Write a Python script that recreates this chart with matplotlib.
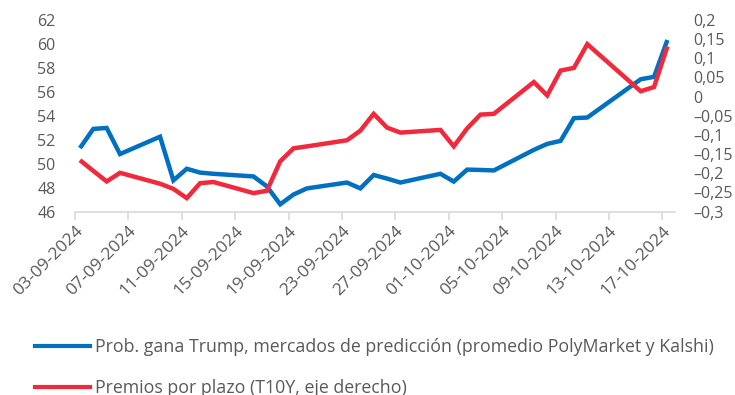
import numpy as np
import pandas as pd
import matplotlib
matplotlib.use("Agg")
import matplotlib.pyplot as plt
from matplotlib.lines import Line2D
from matplotlib.transforms import ScaledTranslation

plt.rcParams['font.family'] = ['Open Sans', 'DejaVu Sans']

# trading days (offset in days from 03-09-2024)
days = [0, 1, 2, 3, 6, 7, 8, 9, 10, 13, 14, 15, 16, 17, 20, 21, 22, 23, 24,
        27, 28, 29, 30, 31, 34, 35, 36, 37, 38, 42, 43, 44]

# probabilidad de victoria de Trump (%)
prob_trump = [51.3, 52.9, 52.98, 50.8, 52.25, 48.6, 49.57, 49.25, 49.15, 48.93,
              48.1, 46.6, 47.42, 47.93, 48.42, 47.93, 49.05, 48.75, 48.42,
              49.15, 48.5, 49.5, 49.47, 49.43, 51.15, 51.65, 51.9, 53.8, 53.85,
              57.05, 57.25, 60.33]

# term premium T10Y
term_premium = [-0.166, -0.194, -0.2215, -0.199, -0.2275, -0.241, -0.265, -0.226,
                -0.223, -0.252, -0.246, -0.169, -0.135, -0.130, -0.114, -0.089,
                -0.045, -0.081, -0.094, -0.087, -0.130, -0.083, -0.047, -0.045,
                0.038, 0.003, 0.068, 0.075, 0.137, 0.014, 0.025, 0.131]

start = pd.Timestamp('2024-09-03')
tick_days = np.arange(0, 45, 4)
tick_labels = [(start + pd.Timedelta(days=int(d))).strftime('%d-%m-%Y') for d in tick_days]

left_ticks = np.arange(46, 63, 2)
right_ticks = np.arange(-0.3, 0.201, 0.05)

BLUE = '#0070C0'
RED = '#F2283C'
GREY = '#595959'

fig = plt.figure(figsize=(7.35, 3.95), dpi=100)
ax = fig.add_axes([75/735, 1 - 211.5/395, 600/735, 191.5/395])
ax2 = ax.twinx()

ax.plot(days, prob_trump, color=BLUE, lw=3.2, solid_joinstyle='miter', solid_capstyle='butt')
ax2.plot(days, term_premium, color=RED, lw=3.2, solid_joinstyle='miter', solid_capstyle='butt')

# x axis: ticks sit slightly left of each day's point
shift = 0.37
ax.set_xlim(-shift, 44.57)
ax.set_xticks(tick_days - shift)
ax.set_xticklabels(tick_labels, rotation=45, ha='right', rotation_mode='anchor')
for lbl in ax.get_xticklabels():
    lbl.set_transform(lbl.get_transform() + ScaledTranslation(11/72, -7/72, fig.dpi_scale_trans))

ax.set_ylim(46, 62)
ax.set_yticks(left_ticks)
ax.set_yticklabels([str(v) for v in left_ticks])
ax2.set_ylim(-0.3, 0.2)
ax2.set_yticks(right_ticks)
ax2.set_yticklabels([('%g' % round(v, 2)).replace('.', ',').replace('-', '\u2013') if abs(v) > 1e-9 else '0'
                     for v in right_ticks])

for a in (ax, ax2):
    for s in ('top', 'left', 'right'):
        a.spines[s].set_visible(False)
    a.spines['bottom'].set_color('#D9D9D9')
    a.spines['bottom'].set_linewidth(1.2)
ax2.spines['bottom'].set_visible(False)

ax.tick_params(axis='x', colors='#D9D9D9', length=6, width=1.2, labelcolor=GREY, labelsize=12.5, pad=2)
ax.tick_params(axis='y', length=0, labelcolor=GREY, labelsize=11.5, pad=14)
ax2.tick_params(axis='y', length=0, labelcolor=GREY, labelsize=11.5, pad=13)

handles = [Line2D([], [], color=BLUE, lw=3.0),
           Line2D([], [], color=RED, lw=3.0)]
labels = ['Prob. gana Trump, mercados de predicción (promedio PolyMarket y Kalshi)',
          'Premios por plazo (T10Y, eje derecho)']
fig.legend(handles, labels, loc='upper left', bbox_to_anchor=(35/735, 1 - 338/395),
           frameon=False, fontsize=12.8, labelcolor=GREY, handlelength=3.1,
           handletextpad=0.28, labelspacing=1.3, borderpad=0, borderaxespad=0)

fig.savefig('out.png', dpi=100)
